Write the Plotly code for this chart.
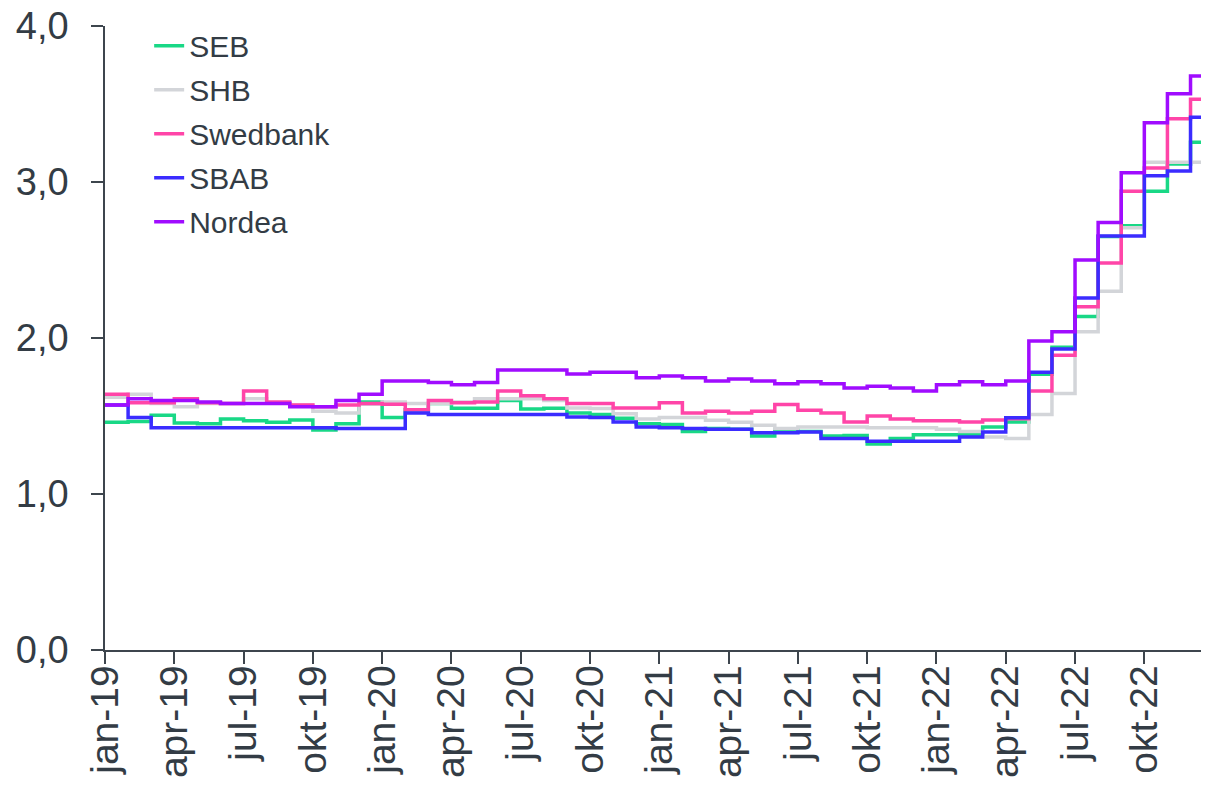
import plotly.graph_objects as go

# Month categories jan-19 .. dec-22
mon_names = ["jan", "feb", "mar", "apr", "maj", "jun", "jul", "aug", "sep", "okt", "nov", "dec"]
years = ["19", "20", "21", "22"]
months = [f"{m}-{y}" for y in years for m in mon_names]

# Tick labels (every third month)
tick_labels = [months[i] for i in range(0, len(months), 3)]

seb = [1.46, 1.465, 1.505, 1.455, 1.45, 1.48, 1.47, 1.46, 1.475, 1.41, 1.45, 1.59,
       1.49, 1.54, 1.58, 1.55, 1.55, 1.60, 1.545, 1.55, 1.52, 1.51, 1.485, 1.45,
       1.445, 1.40, 1.42, 1.415, 1.372, 1.41, 1.40, 1.372, 1.375, 1.32, 1.355, 1.38,
       1.38, 1.38, 1.43, 1.462, 1.767, 1.94, 2.138, 2.65, 2.72, 2.94, 3.115, 3.255]

shb = [1.62, 1.64, 1.58, 1.56, 1.58, 1.58, 1.61, 1.585, 1.57, 1.53, 1.52, 1.575,
       1.59, 1.58, 1.58, 1.59, 1.61, 1.61, 1.61, 1.60, 1.552, 1.548, 1.515, 1.48,
       1.49, 1.49, 1.473, 1.46, 1.44, 1.42, 1.43, 1.43, 1.43, 1.425, 1.425, 1.425,
       1.415, 1.40, 1.366, 1.355, 1.51, 1.645, 2.04, 2.30, 2.707, 3.126, 3.126, 3.126]

swedbank = [1.64, 1.585, 1.585, 1.61, 1.585, 1.58, 1.66, 1.59, 1.57, 1.56, 1.57, 1.58,
            1.575, 1.54, 1.60, 1.585, 1.59, 1.66, 1.63, 1.61, 1.58, 1.58, 1.552, 1.552,
            1.585, 1.52, 1.53, 1.52, 1.53, 1.574, 1.537, 1.52, 1.462, 1.50, 1.48, 1.47,
            1.47, 1.462, 1.475, 1.483, 1.66, 1.89, 2.20, 2.48, 2.94, 3.09, 3.405, 3.53]

sbab = [1.57, 1.49, 1.425, 1.425, 1.425, 1.425, 1.425, 1.425, 1.425, 1.425, 1.42, 1.42,
        1.42, 1.52, 1.51, 1.51, 1.51, 1.51, 1.51, 1.51, 1.494, 1.49, 1.462, 1.43,
        1.425, 1.42, 1.415, 1.415, 1.393, 1.393, 1.398, 1.355, 1.355, 1.338, 1.338, 1.338,
        1.338, 1.366, 1.398, 1.488, 1.78, 1.93, 2.256, 2.654, 2.654, 3.04, 3.07, 3.415]

nordea = [1.57, 1.61, 1.60, 1.60, 1.59, 1.58, 1.58, 1.58, 1.56, 1.56, 1.60, 1.64,
          1.725, 1.725, 1.715, 1.70, 1.715, 1.795, 1.795, 1.795, 1.77, 1.78, 1.78, 1.745,
          1.757, 1.745, 1.725, 1.737, 1.725, 1.707, 1.72, 1.707, 1.68, 1.69, 1.68, 1.66,
          1.70, 1.72, 1.70, 1.725, 1.98, 2.04, 2.50, 2.74, 3.06, 3.38, 3.566, 3.68]

series = [
    ("SEB", seb, "#19d886"),
    ("SHB", shb, "#d3d5d9"),
    ("Swedbank", swedbank, "#ff45a8"),
    ("SBAB", sbab, "#3b2cff"),
    ("Nordea", nordea, "#a00cff"),
]

FONT = "Liberation Sans, Arial, sans-serif"
TXT = "#333c45"
AX = "#3d454d"

# x positions: month index; an extra end point closes the final step
x_pos = list(range(len(months) + 1))

fig = go.Figure()
for name, vals, col in series:
    fig.add_trace(go.Scatter(
        x=x_pos, y=vals + [vals[-1]], mode="lines", name=name,
        line=dict(color=col, width=3.5, shape="hv"),
        legendgroup=name,
        hoverinfo="skip",
    ))

fig.update_layout(
    width=1201, height=780,
    margin=dict(l=97, r=0, t=18, b=138),
    paper_bgcolor="white", plot_bgcolor="white",
    font=dict(family=FONT, color=TXT),
    showlegend=True,
    legend=dict(x=0.04, y=1.010, xanchor="left", yanchor="top",
                font=dict(size=30, family=FONT, color=TXT),
                bgcolor="rgba(0,0,0,0)", tracegroupgap=2,
                itemwidth=30),
    xaxis=dict(
        range=[0, 47.8],
        automargin=False,
        tickmode="array",
        tickvals=list(range(0, len(months), 3)),
        ticktext=tick_labels,
        tickangle=-90,
        ticks="outside", ticklen=12, tickwidth=1.5, tickcolor=AX,
        ticklabelstandoff=-14,
        ticklabeloverflow="allow",
        showline=True, linecolor=AX, linewidth=1.5,
        showgrid=False, zeroline=False,
        tickfont=dict(size=39, family=FONT, color=TXT),
    ),
    yaxis=dict(
        range=[0, 4],
        automargin=False,
        tickmode="array",
        tickvals=[0, 1, 2, 3, 4],
        ticktext=["0,0", "1,0", "2,0", "3,0", "4,0"],
        ticks="outside", ticklen=12, tickwidth=1.5, tickcolor=AX,
        ticklabelstandoff=15,
        ticklabeloverflow="allow",
        showline=True, linecolor=AX, linewidth=1.5,
        showgrid=False, zeroline=False,
        tickfont=dict(size=38, family=FONT, color=TXT),
    ),
)

fig.write_html("out.html")
